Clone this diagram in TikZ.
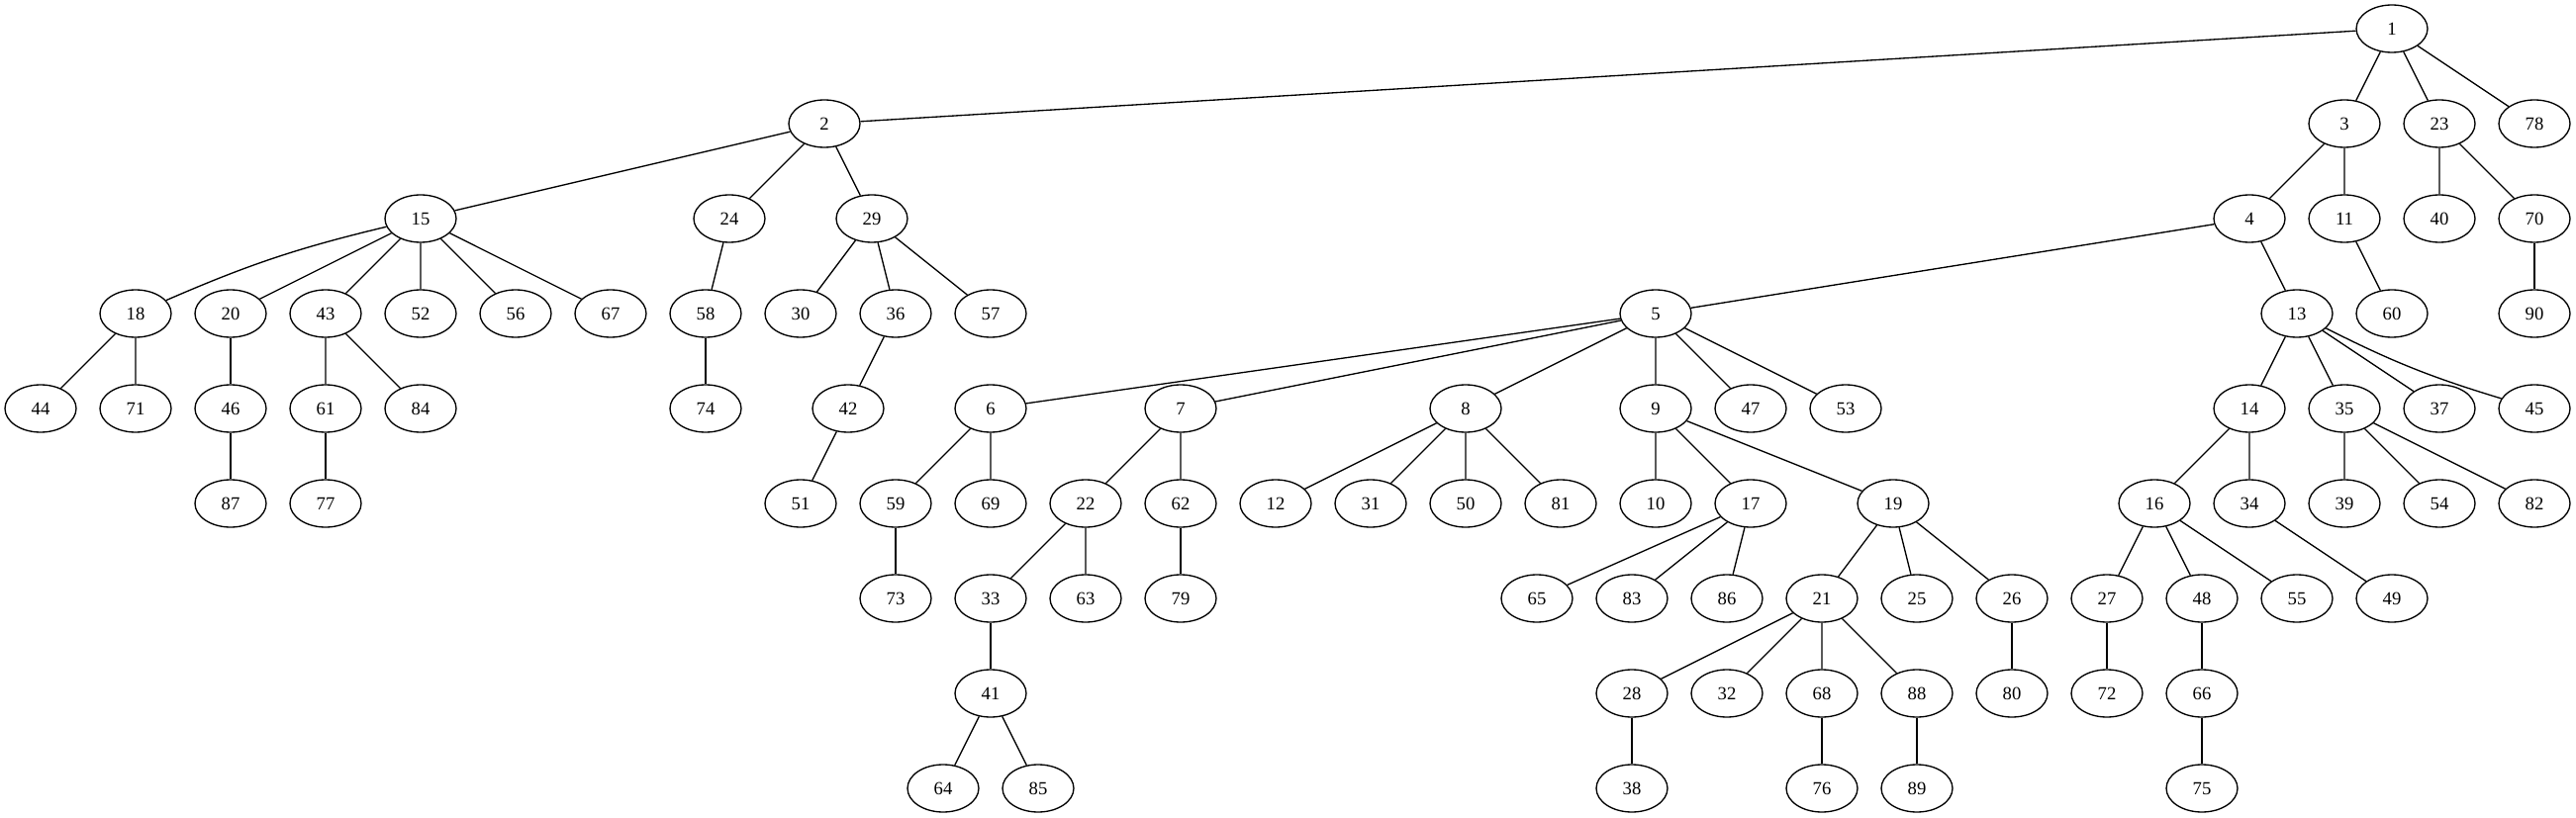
\documentclass[tikz,border=0pt]{standalone}
\usepackage{fontspec}
\setmainfont{Liberation Serif}
\usepackage{tikz}
\usetikzlibrary{shapes.geometric}

\begin{document}
\begin{tikzpicture}[x=0.75pt, y=-0.75pt,
  vtx/.style={draw, ellipse, line width=1pt, minimum width=54pt, minimum height=36pt, inner sep=0pt, font=\fontsize{14}{16}\selectfont},
  edge/.style={line width=1pt}]
  \useasboundingbox (0,0) rectangle (2603,827);

  % ----- Level 0 -----
  \node[vtx] (n1) at (2417,29) {1};

  % ----- Level 1 -----
  \node[vtx] (n2) at (833,125) {2};
  \node[vtx] (n3) at (2369,125) {3};
  \node[vtx] (n23) at (2465,125) {23};
  \node[vtx] (n78) at (2561,125) {78};

  % ----- Level 2 -----
  \node[vtx] (n15) at (425,221) {15};
  \node[vtx] (n24) at (737,221) {24};
  \node[vtx] (n29) at (881,221) {29};
  \node[vtx] (n4) at (2273,221) {4};
  \node[vtx] (n11) at (2369,221) {11};
  \node[vtx] (n40) at (2465,221) {40};
  \node[vtx] (n70) at (2561,221) {70};

  % ----- Level 3 -----
  \node[vtx] (n18) at (137,317) {18};
  \node[vtx] (n20) at (233,317) {20};
  \node[vtx] (n43) at (329,317) {43};
  \node[vtx] (n52) at (425,317) {52};
  \node[vtx] (n56) at (521,317) {56};
  \node[vtx] (n67) at (617,317) {67};
  \node[vtx] (n58) at (713,317) {58};
  \node[vtx] (n30) at (809,317) {30};
  \node[vtx] (n36) at (905,317) {36};
  \node[vtx] (n57) at (1001,317) {57};
  \node[vtx] (n5) at (1673,317) {5};
  \node[vtx] (n13) at (2321,317) {13};
  \node[vtx] (n60) at (2417,317) {60};
  \node[vtx] (n90) at (2561,317) {90};

  % ----- Level 4 -----
  \node[vtx] (n44) at (41,413) {44};
  \node[vtx] (n71) at (137,413) {71};
  \node[vtx] (n46) at (233,413) {46};
  \node[vtx] (n61) at (329,413) {61};
  \node[vtx] (n84) at (425,413) {84};
  \node[vtx] (n74) at (713,413) {74};
  \node[vtx] (n42) at (857,413) {42};
  \node[vtx] (n6) at (1001,413) {6};
  \node[vtx] (n7) at (1193,413) {7};
  \node[vtx] (n8) at (1481,413) {8};
  \node[vtx] (n9) at (1673,413) {9};
  \node[vtx] (n47) at (1769,413) {47};
  \node[vtx] (n53) at (1865,413) {53};
  \node[vtx] (n14) at (2273,413) {14};
  \node[vtx] (n35) at (2369,413) {35};
  \node[vtx] (n37) at (2465,413) {37};
  \node[vtx] (n45) at (2561,413) {45};

  % ----- Level 5 -----
  \node[vtx] (n87) at (233,509) {87};
  \node[vtx] (n77) at (329,509) {77};
  \node[vtx] (n51) at (809,509) {51};
  \node[vtx] (n59) at (905,509) {59};
  \node[vtx] (n69) at (1001,509) {69};
  \node[vtx] (n22) at (1097,509) {22};
  \node[vtx] (n62) at (1193,509) {62};
  \node[vtx] (n12) at (1289,509) {12};
  \node[vtx] (n31) at (1385,509) {31};
  \node[vtx] (n50) at (1481,509) {50};
  \node[vtx] (n81) at (1577,509) {81};
  \node[vtx] (n10) at (1673,509) {10};
  \node[vtx] (n17) at (1769,509) {17};
  \node[vtx] (n19) at (1913,509) {19};
  \node[vtx] (n16) at (2177,509) {16};
  \node[vtx] (n34) at (2273,509) {34};
  \node[vtx] (n39) at (2369,509) {39};
  \node[vtx] (n54) at (2465,509) {54};
  \node[vtx] (n82) at (2561,509) {82};

  % ----- Level 6 -----
  \node[vtx] (n73) at (905,605) {73};
  \node[vtx] (n33) at (1001,605) {33};
  \node[vtx] (n63) at (1097,605) {63};
  \node[vtx] (n79) at (1193,605) {79};
  \node[vtx] (n65) at (1553,605) {65};
  \node[vtx] (n83) at (1649,605) {83};
  \node[vtx] (n86) at (1745,605) {86};
  \node[vtx] (n21) at (1841,605) {21};
  \node[vtx] (n25) at (1937,605) {25};
  \node[vtx] (n26) at (2033,605) {26};
  \node[vtx] (n27) at (2129,605) {27};
  \node[vtx] (n48) at (2225,605) {48};
  \node[vtx] (n55) at (2321,605) {55};
  \node[vtx] (n49) at (2417,605) {49};

  % ----- Level 7 -----
  \node[vtx] (n41) at (1001,701) {41};
  \node[vtx] (n28) at (1649,701) {28};
  \node[vtx] (n32) at (1745,701) {32};
  \node[vtx] (n68) at (1841,701) {68};
  \node[vtx] (n88) at (1937,701) {88};
  \node[vtx] (n80) at (2033,701) {80};
  \node[vtx] (n72) at (2129,701) {72};
  \node[vtx] (n66) at (2225,701) {66};

  % ----- Level 8 -----
  \node[vtx] (n64) at (953,797) {64};
  \node[vtx] (n85) at (1049,797) {85};
  \node[vtx] (n38) at (1649,797) {38};
  \node[vtx] (n76) at (1841,797) {76};
  \node[vtx] (n89) at (1937,797) {89};
  \node[vtx] (n75) at (2225,797) {75};

  % ----- Edges -----
  \draw[edge] (n1) -- (n2) (n1) -- (n3) (n1) -- (n23) (n1) -- (n78);
  \draw[edge] (n2) -- (n15) (n2) -- (n24) (n2) -- (n29);
  \draw[edge] (n3) -- (n4) (n3) -- (n11);
  \draw[edge] (n23) -- (n40) (n23) -- (n70);
  \draw[edge] (n15) to[bend right=5] (n18);
  \draw[edge] (n15) -- (n20) (n15) -- (n43) (n15) -- (n52) (n15) -- (n56) (n15) -- (n67);
  \draw[edge] (n24) -- (n58);
  \draw[edge] (n29) -- (n30) (n29) -- (n36) (n29) -- (n57);
  \draw[edge] (n4) -- (n5) (n4) -- (n13);
  \draw[edge] (n11) -- (n60);
  \draw[edge] (n70) -- (n90);
  \draw[edge] (n18) -- (n44) (n18) -- (n71);
  \draw[edge] (n20) -- (n46);
  \draw[edge] (n43) -- (n61) (n43) -- (n84);
  \draw[edge] (n58) -- (n74);
  \draw[edge] (n36) -- (n42);
  \draw[edge] (n5) -- (n6) (n5) -- (n7) (n5) -- (n8) (n5) -- (n9) (n5) -- (n47) (n5) -- (n53);
  \draw[edge] (n13) -- (n14) (n13) -- (n35) (n13) -- (n37);
  \draw[edge] (n13) to[bend right=5] (n45);
  \draw[edge] (n46) -- (n87);
  \draw[edge] (n61) -- (n77);
  \draw[edge] (n42) -- (n51);
  \draw[edge] (n6) -- (n59) (n6) -- (n69);
  \draw[edge] (n7) -- (n22) (n7) -- (n62);
  \draw[edge] (n8) -- (n12) (n8) -- (n31) (n8) -- (n50) (n8) -- (n81);
  \draw[edge] (n9) -- (n10) (n9) -- (n17) (n9) -- (n19);
  \draw[edge] (n14) -- (n16) (n14) -- (n34);
  \draw[edge] (n35) -- (n39) (n35) -- (n54) (n35) -- (n82);
  \draw[edge] (n59) -- (n73);
  \draw[edge] (n22) -- (n33) (n22) -- (n63);
  \draw[edge] (n62) -- (n79);
  \draw[edge] (n17) -- (n65) (n17) -- (n83) (n17) -- (n86);
  \draw[edge] (n19) -- (n21) (n19) -- (n25) (n19) -- (n26);
  \draw[edge] (n16) -- (n27) (n16) -- (n48) (n16) -- (n55);
  \draw[edge] (n34) -- (n49);
  \draw[edge] (n33) -- (n41);
  \draw[edge] (n21) -- (n28) (n21) -- (n32) (n21) -- (n68) (n21) -- (n88);
  \draw[edge] (n26) -- (n80);
  \draw[edge] (n27) -- (n72);
  \draw[edge] (n48) -- (n66);
  \draw[edge] (n41) -- (n64) (n41) -- (n85);
  \draw[edge] (n28) -- (n38);
  \draw[edge] (n68) -- (n76);
  \draw[edge] (n88) -- (n89);
  \draw[edge] (n66) -- (n75);
\end{tikzpicture}
\end{document}
